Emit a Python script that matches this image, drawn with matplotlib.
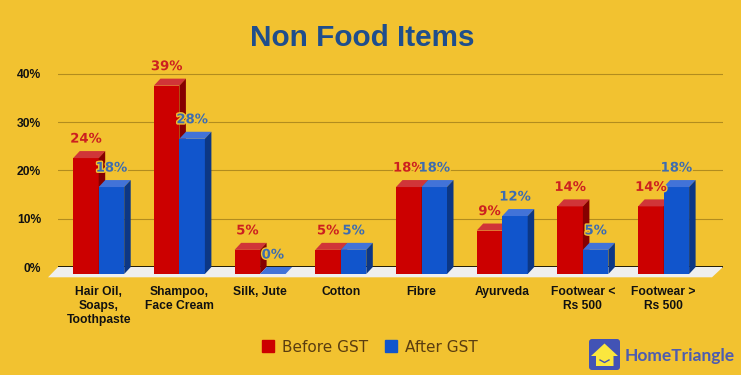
import numpy as np
import matplotlib

matplotlib.use('Agg')
import matplotlib.pyplot as plt
import matplotlib.patheffects as pe
from matplotlib.patches import Polygon, FancyBboxPatch, Patch

categories = ['Hair Oil,\nSoaps,\nToothpaste', 'Shampoo,\nFace Cream', 'Silk, Jute', 'Cotton',
              'Fibre', 'Ayurveda', 'Footwear <\nRs 500', 'Footwear >\nRs 500']
before_gst = [24, 39, 5, 5, 18, 9, 14, 14]
after_gst = [18, 28, 0, 5, 18, 12, 5, 18]
y_ticks = [0, 10, 20, 30, 40]

BG = '#f2c230'
W, H = 741, 375
# pixels per unit on each axis, and the 3D depth of the bars
PX_X, PX_Y = 80.7, 4.83
DX, DY = 6.5 / PX_X, 7 / PX_Y
BAR_W = 25.5 / PX_X

fig = plt.figure(figsize=(W / 100, H / 100), dpi=100, facecolor=BG)
ax = fig.add_axes([58 / W, 1 - 274 / H, (723 - 58) / W, (274 - 73.3) / H], facecolor='none')
ax.set_xlim((58 - 98.7) / PX_X, (723 - 98.7) / PX_X)
ax.set_ylim(0, (274 - 73.3) / PX_Y)
for s in ax.spines.values():
    s.set_visible(False)


def draw_bars(xs, values, front, top, side, text_col):
    ax.bar(xs, values, BAR_W, color=front, zorder=3, linewidth=0)
    for x, v in zip(xs, values):
        l, r = x - BAR_W / 2, x + BAR_W / 2
        ax.add_patch(Polygon([(l, v), (r, v), (r + DX, v + DY), (l + DX, v + DY)],
                             color=top, lw=0, zorder=3, clip_on=False))
        ax.add_patch(Polygon([(r, 0), (r, v), (r + DX, v + DY), (r + DX, DY)],
                             color=side, lw=0, zorder=3, clip_on=False))
        ax.text(x, v + 19 / PX_Y, f'{v}%', color=text_col, fontsize=9.5, fontweight='bold',
                family='DejaVu Sans', ha='center', va='center', zorder=5, clip_on=False,
                path_effects=[pe.withStroke(linewidth=2, foreground=BG)])


x = np.arange(len(categories))
offset = BAR_W / 2

# floor, then back wall lines
ax.add_patch(Polygon([(-0.504 - 10 / PX_X, -3.3 / PX_Y), (-0.504, DY), (7.736, DY),
                      (7.736 - 11 / PX_X, -3.3 / PX_Y)],
                     color='#efefef', lw=0, zorder=1, clip_on=False))
ax.set_yticks([t + DY for t in y_ticks], [f'{t}%' for t in y_ticks])
ax.set_xticks(x, categories)
ax.tick_params(axis='both', length=0)
ax.tick_params(axis='y', pad=12)
ax.tick_params(axis='x', pad=8.8)
for lbl in ax.get_xticklabels() + ax.get_yticklabels():
    lbl.set_family('Liberation Sans')
    lbl.set_fontweight('bold')
    lbl.set_fontsize(8.7)
    lbl.set_color('#111111')
ax.grid(axis='y', color='#b28c1e', lw=0.8, zorder=0)
ax.set_axisbelow(True)
ax.get_ygridlines()[0].set_color('#000000')
ax.get_ygridlines()[0].set_linewidth(1.2)

draw_bars(x - offset, before_gst, '#cc0000', '#d03538', '#860000', '#cc2020')
draw_bars(x + offset, after_gst, '#1155cc', '#4273d8', '#0c3785', '#3d6cb0')

fig.text(362 / W, 1 - 38.5 / H, 'Non Food Items', color='#1f4e8c', fontsize=21.4, fontweight='bold',
         family='Liberation Sans', ha='center', va='center')

handles = [Patch(color='#cc0000', label='Before GST'), Patch(color='#1155cc', label='After GST')]
fig.legend(handles=handles, loc='center', bbox_to_anchor=(370 / W, 1 - 347 / H), ncol=2, frameon=False,
           labelcolor='#5a3d10', handlelength=0.78, handleheight=0.78,
           handletextpad=0.52, columnspacing=1.1, prop={'family': 'DejaVu Sans', 'size': 11})

# logo
logo = fig.add_axes([0, 0, 1, 1], facecolor='none')
logo.set_xlim(0, W)
logo.set_ylim(H, 0)
logo.axis('off')
logo.add_patch(FancyBboxPatch((591, 341), 27, 27, boxstyle='round,pad=2,rounding_size=3',
                              color='#4253b5', lw=0))
logo.add_patch(Polygon([(604.5, 343.5), (618, 356), (613.5, 356), (613.5, 366), (596, 366),
                        (596, 356), (591, 356)], color='#fbe73e', lw=0))
logo.plot([600, 604.5, 609], [360, 362.5, 360], color='#4253b5', lw=1)
logo.text(625, 356, 'HomeTriangle', color='#4d5cb0', fontsize=12.5, fontweight='bold',
          family='Lato', va='center', ha='left')

fig.savefig('out.png', dpi=100, facecolor=BG)
